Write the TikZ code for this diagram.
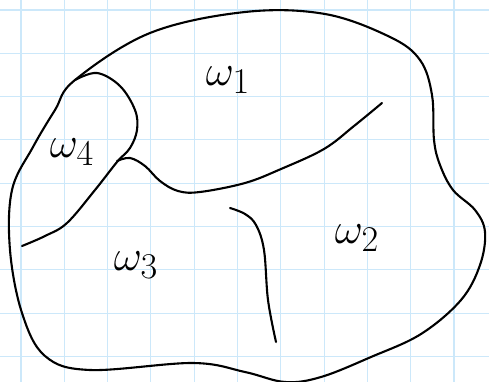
\documentclass[tikz,border=0pt]{standalone}
\usepackage{amsmath, amssymb, graphicx}
\usepackage{tikz}
\usetikzlibrary{positioning}

\definecolor{gridblue}{RGB}{204,232,250}

\newcommand{\regionlabel}[1]{\scalebox{1.75}{\Huge $\omega_{#1}$}}

\tikzset{
  gridline/.style={gridblue, line width=1.1pt},
  pen/.style={black, line width=2.1pt, line cap=round, line join=round},
  region/.style={inner sep=0pt}
}

\begin{document}
\begin{tikzpicture}[x=1pt, y=-1pt]
				\useasboundingbox (0,0) rectangle (489,382);
				\fill[white] (0,0) rectangle (489,382);
				% paper grid
				\foreach \i in {0,...,10}
					\draw[gridline] ({21+43.3*\i},0) -- ++(0,382);
				\foreach \j in {0,...,8}
					\draw[gridline] (0,{10+43.3*\j}) -- ++(489,0);
				% outer boundary
				\draw[pen] plot[smooth cycle, tension=0.6] coordinates {
					(75,80) (150,33) (245,12) (325,14) (390,37) (420,60) (432,95)
					(434,140) (440,165) (453,190) (475,210) (485,232) (480,265)
					(461,300) (421,334) (371,357) (321,377) (285,382) (245,372)
					(193,363) (90,370) (45,356) (22,313) (10,250) (12,190)
					(33,147) (55,110)};
				% inner cuts
				\draw[pen] plot[smooth, tension=0.6] coordinates {
					(75,80) (97,73) (120,86) (135,110) (137,130) (130,148)
					(117,162) (95,190) (67,223) (45,236) (22,246)};
				\draw[pen] plot[smooth, tension=0.6] coordinates {
					(117,161) (130,158) (145,166) (160,181) (178,191) (200,192)
					(245,183) (281,169) (324,149) (354,126) (382,103)};
				\draw[pen] plot[smooth, tension=0.6] coordinates {
					(230,208) (245,214) (256,225) (264,250) (268,300) (276,342)};
				% labels
				\node[region] (w1) at (228,80) {\regionlabel{1}};
				\node[region] (w4) at (72,152) {\regionlabel{4}};
				\node[region] (w3) at (136,265) {\regionlabel{3}};
				\node[region] (w2) at (357,238) {\regionlabel{2}};
			\end{tikzpicture}
\end{document}
